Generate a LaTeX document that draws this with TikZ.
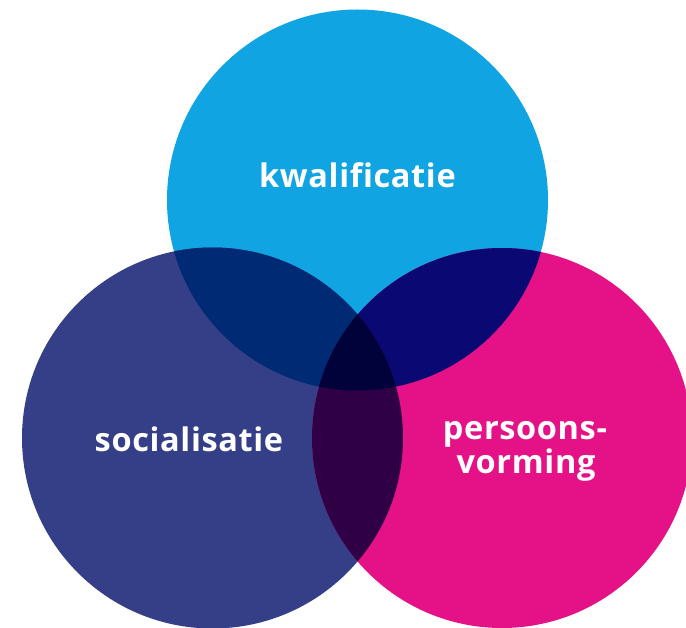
\documentclass[tikz,border=0pt]{standalone}
\usepackage{fontspec}
\setmainfont{Open Sans}
\newfontfamily\lblfont[LetterSpace=2,Ligatures=NoCommon]{Open Sans}
\begin{document}
\begin{tikzpicture}[x=1pt,y=-1pt,
  lbl/.style={text=white,font=\lblfont\fontsize{32.5}{33}\selectfont\bfseries,inner sep=0pt,anchor=base,align=center}]
\useasboundingbox (0,0) rectangle (686,628);
\definecolor{cK}{HTML}{10A4E3}
\definecolor{cS}{HTML}{343F87}
\definecolor{cP}{HTML}{E51287}
\definecolor{cKS}{HTML}{002A73}
\definecolor{cKP}{HTML}{0A0872}
\definecolor{cSP}{HTML}{2F0045}
\definecolor{cKSP}{HTML}{02023A}
\def\pK{(357.5,200) circle[radius=190.5]}
\def\pS{(212.5,438) circle[radius=190.5]}
\def\pP{(502,438) circle[radius=190]}
\begin{scope}
\clip (0,0) rectangle (686,628);
\fill[cK] \pK;
\fill[cS] \pS;
\fill[cP] \pP;
\begin{scope}\clip \pK; \fill[cKS] \pS; \end{scope}
\begin{scope}\clip \pK; \fill[cKP] \pP; \end{scope}
\begin{scope}\clip \pS; \fill[cSP] \pP; \end{scope}
\begin{scope}\clip \pK; \clip \pS; \fill[cKSP] \pP; \end{scope}
\end{scope}
\node[lbl] (k) at (357.5,188) {kwalificatie};
\node[lbl] (s) at (189,452) {socialisatie};
\node[lbl] (p) at (525,440) {persoons-};
\node[lbl] (v) at (526,473) {vorming};
\end{tikzpicture}
\end{document}
